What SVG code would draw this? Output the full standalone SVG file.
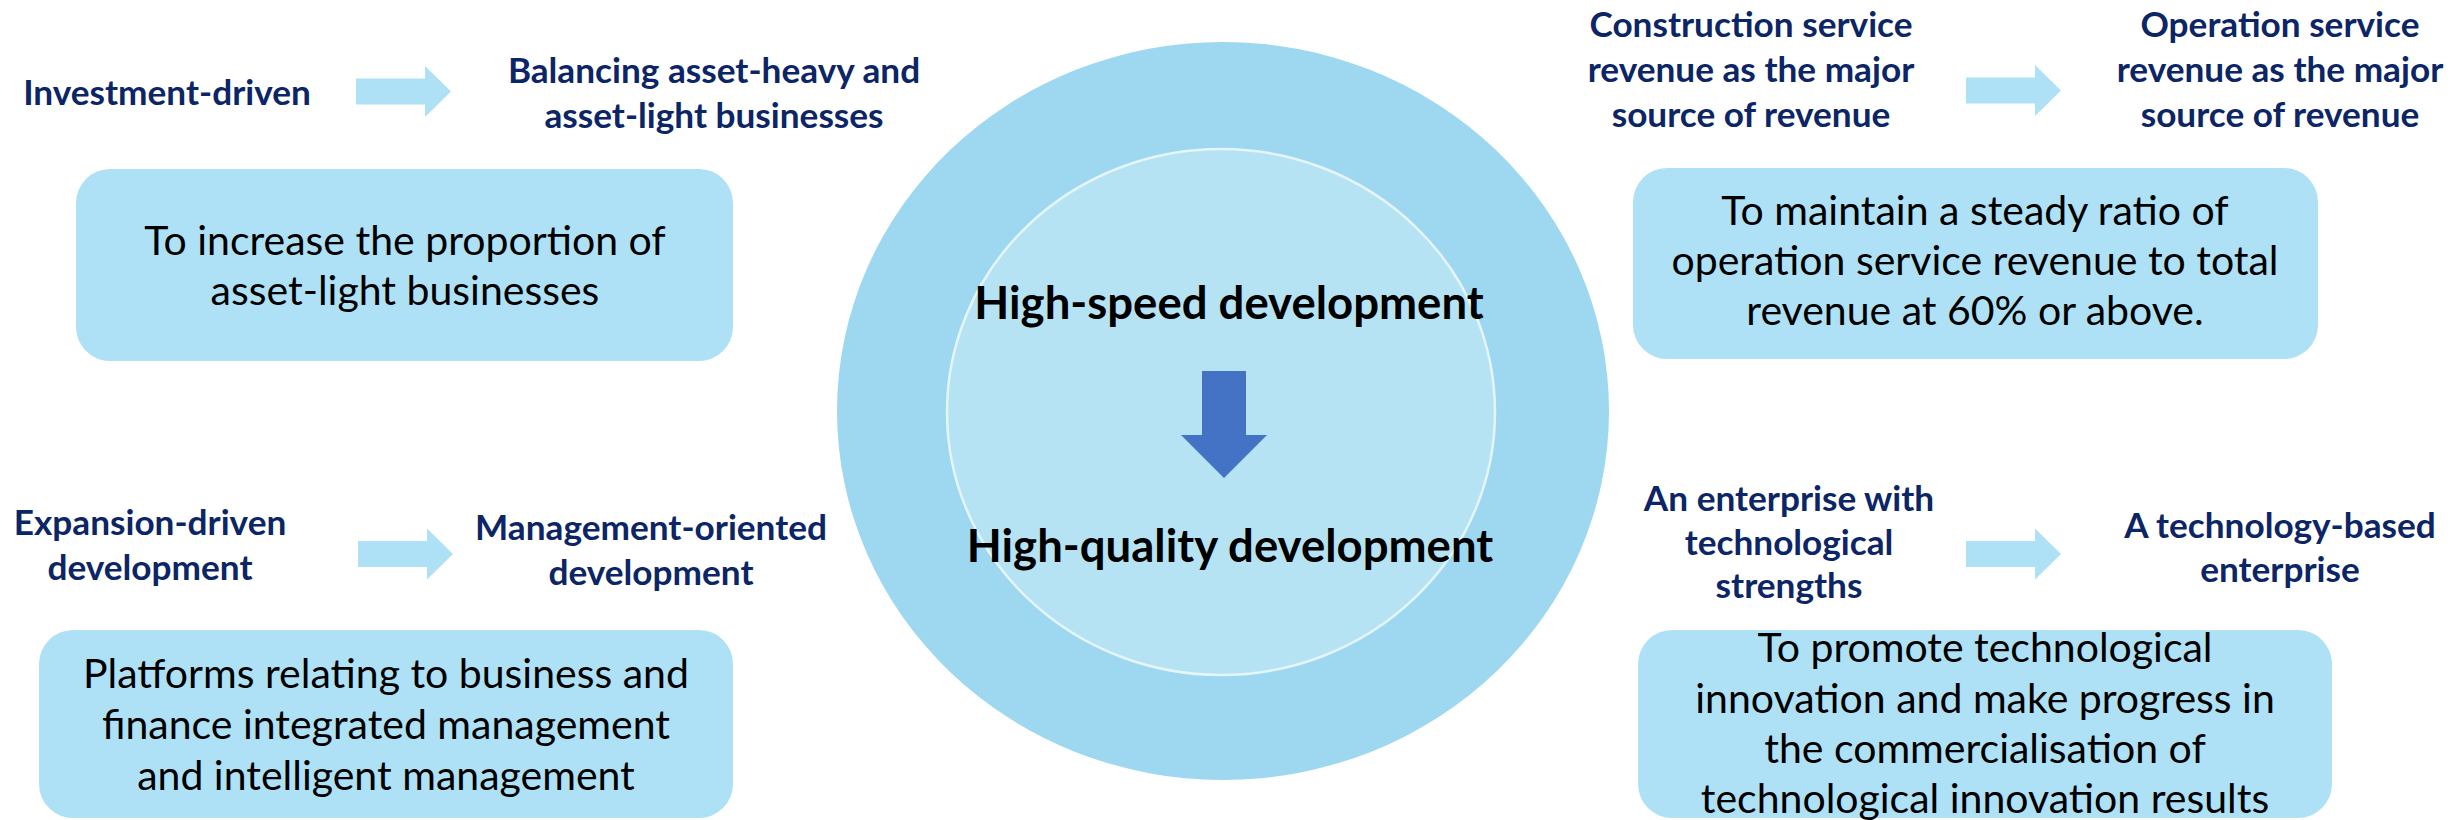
<svg xmlns="http://www.w3.org/2000/svg" width="2453" height="820" viewBox="0 0 2453 820">
  <defs>
    <style>
      .label { font-family: Lato, "Open Sans", sans-serif; font-weight: 700; font-size: 35.2px; fill: #0B2566; text-anchor: middle; }
      .boxtext { font-family: Lato, "Open Sans", sans-serif; font-weight: 400; font-size: 41px; fill: #000000; text-anchor: middle; }
      .core { font-family: Lato, "Open Sans", sans-serif; font-weight: 700; font-size: 45.5px; fill: #000000; text-anchor: middle; }
      .box { fill: #AEE1F5; }
      .flow { fill: #AEE1F5; }
    </style>
    <!-- light block arrow pointing right, origin at shaft start / centre line -->
    <path id="rarrow" d="M0,-13 H69 V-25.5 L95,0 L69,25.5 V13 H0 Z"/>
  </defs>

  <rect width="2453" height="820" fill="#FFFFFF"/>

  <!-- central rings -->
  <g id="core">
    <ellipse cx="1223" cy="411" rx="386" ry="369" fill="#9DD7F0"/>
    <ellipse cx="1221" cy="412" rx="274" ry="263" fill="#B6E3F3" stroke="#E4F5FB" stroke-width="2.5"/>
    <text class="core" x="1229" y="319">High-speed development</text>
    <path d="M1202,371 H1246 V435 H1267 L1224,478 L1181,435 H1202 Z" fill="#4472C4"/>
    <text class="core" x="1230" y="562">High-quality development</text>
  </g>

  <!-- transition arrows -->
  <g id="connectors" class="flow">
    <use href="#rarrow" x="356" y="91.5"/>
    <use href="#rarrow" x="1966" y="90.5"/>
    <use href="#rarrow" x="358" y="554"/>
    <use href="#rarrow" x="1966" y="554"/>
  </g>

  <!-- top-left: asset structure -->
  <g id="investment-driven">
    <text class="label" x="167" y="105">Investment-driven</text>
  </g>
  <g id="balancing-assets">
    <text class="label" x="714" y="83">Balancing asset-heavy and</text>
    <text class="label" x="714" y="128">asset-light businesses</text>
  </g>
  <g id="goal-asset-light">
    <rect class="box" x="76" y="169" width="657" height="192" rx="34"/>
    <text class="boxtext" x="405" y="255">To increase the proportion of</text>
    <text class="boxtext" x="405" y="305">asset-light businesses</text>
  </g>

  <!-- top-right: revenue mix -->
  <g id="construction-revenue">
    <text class="label" x="1751" y="37">Construction service</text>
    <text class="label" x="1751" y="82">revenue as the major</text>
    <text class="label" x="1751" y="127">source of revenue</text>
  </g>
  <g id="operation-revenue">
    <text class="label" x="2280" y="37">Operation service</text>
    <text class="label" x="2280" y="82">revenue as the major</text>
    <text class="label" x="2280" y="127">source of revenue</text>
  </g>
  <g id="goal-operation-ratio">
    <rect class="box" x="1633" y="168" width="685" height="191" rx="34"/>
    <text class="boxtext" x="1975" y="225">To maintain a steady ratio of</text>
    <text class="boxtext" x="1975" y="275">operation service revenue to total</text>
    <text class="boxtext" x="1975" y="325">revenue at 60% or above.</text>
  </g>

  <!-- bottom-left: management model -->
  <g id="expansion-driven">
    <text class="label" x="150" y="535">Expansion-driven</text>
    <text class="label" x="150" y="580">development</text>
  </g>
  <g id="management-oriented">
    <text class="label" x="651" y="540">Management-oriented</text>
    <text class="label" x="651" y="585">development</text>
  </g>
  <g id="goal-platforms">
    <rect class="box" x="39" y="630" width="694" height="188" rx="34"/>
    <text class="boxtext" x="386" y="688">Platforms relating to business and</text>
    <text class="boxtext" x="386" y="739">finance integrated management</text>
    <text class="boxtext" x="386" y="790">and intelligent management</text>
  </g>

  <!-- bottom-right: technology -->
  <g id="tech-strengths">
    <text class="label" x="1789" y="511">An enterprise with</text>
    <text class="label" x="1789" y="555">technological</text>
    <text class="label" x="1789" y="598">strengths</text>
  </g>
  <g id="tech-based">
    <text class="label" x="2280" y="538">A technology-based</text>
    <text class="label" x="2280" y="582">enterprise</text>
  </g>
  <g id="goal-innovation">
    <rect class="box" x="1638" y="630" width="694" height="188" rx="34"/>
    <text class="boxtext" x="1985" y="662">To promote technological</text>
    <text class="boxtext" x="1985" y="713">innovation and make progress in</text>
    <text class="boxtext" x="1985" y="763">the commercialisation of</text>
    <text class="boxtext" x="1985" y="813">technological innovation results</text>
  </g>
</svg>
